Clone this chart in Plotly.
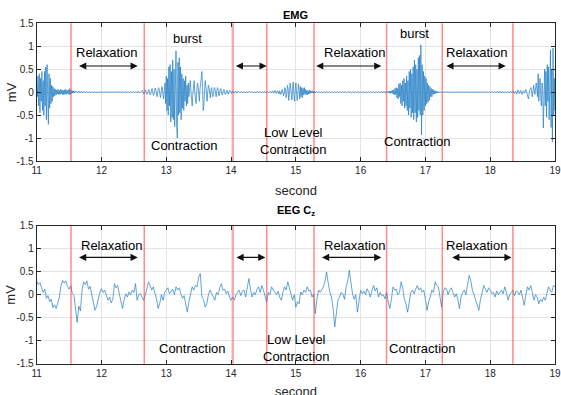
import numpy as np
import plotly.graph_objects as go

# ---------------- data ----------------
# EMG segments: (sample step in s, values in mV), consecutive in time from 11.0 s
emg_start = 11.0
emg_seg_a = [0.2, -0.1, 0.35, -0.3, 0.4, -0.45, 0.3, -0.2, 0.45, -0.4,
             0.25, -0.5, 0.45, -0.3, 0.55, -0.6, 0.6, -0.3, -0.7, 0.4,
             -0.35, 0.3, -0.25, 0.15, -0.2, 0.12, -0.1, 0.08, -0.08, 0.06,
             -0.06, 0.05, -0.04, 0.06, -0.05, 0.04, -0.05, 0.06, -0.04, 0.05,
             -0.05, 0.04, -0.06, 0.05, -0.04, 0.06, -0.05, 0.04, -0.03, 0.05,
             -0.06, 0.08, -0.05, 0.04, -0.03, 0.03, -0.02, 0.03, -0.02, 0.02]
emg_seg_b = [0.02, -0.02, 0.025, -0.02, 0.02, -0.015, 0.02, -0.015, 0.015, -0.01, 0.01, -0.01,
             0.008, -0.008, 0.005, -0.005, 0.004, -0.003, 0.003, -0.002, 0.002, 0, 0.002, -0.002,
             0, 0.002, -0.002, 0, 0.002, -0.002, 0.003, -0.003, 0.003, -0.002, 0.004, -0.004,
             0.005, -0.005, 0.006, -0.006, 0.008, -0.008, 0.01, -0.01, 0.012, -0.012, 0.015,
             -0.015, 0.018, -0.02, 0.02]
emg_seg_c = [0.02, 0.04, 0.0, -0.04, -0.02, 0.03, 0.05, 0.0, -0.05, -0.03, 0.04, 0.06, 0.0,
             -0.06, -0.04, 0.05, 0.08, 0.02, -0.07, -0.06, 0.04, 0.09, 0.03, -0.08, -0.1, 0.02,
             0.1, 0.06, -0.06, -0.12, -0.02, 0.12, 0.1, -0.08, -0.15, 0.05]
emg_seg_d = [0.2, -0.25, 0.35, -0.4, 0.3, -0.5, 0.55, -0.3, 0.6, -0.65, 0.45, -0.55, 0.7,
             -0.6, 0.5, -0.75, 0.8, 0.9, -0.7, -1.0, 0.65, -0.5, 0.75, -0.45, 0.55, -0.6, 0.4,
             -0.35, 0.3, -0.4, 0.25, -0.2, 0.35, -0.3, 0.15, -0.25, 0.2, -0.1]
emg_seg_e = [0.1, 0.25, 0.05, -0.2, -0.3, -0.05, 0.2, 0.25, 0.0, -0.2, -0.25, 0.0, 0.2, 0.15,
             -0.1, -0.2, 0.05, 0.25, 0.3, 0.45, 0.1, -0.4, -0.3, 0.05, 0.25, 0.15, -0.1, -0.2,
             0.0, 0.15, 0.1, -0.1, -0.12, 0.05, 0.1]
emg_seg_f = [-0.05, -0.1, 0.0, 0.1, 0.08, -0.06, -0.1, 0.02, 0.1, 0.05, -0.08, -0.07, 0.04,
             0.08, 0.02, -0.06, -0.05, 0.04, 0.06, 0.0, -0.05, -0.03, 0.04, 0.04, -0.02, -0.04,
             0.01, 0.04, 0.02, -0.03, -0.03, 0.02, 0.03, -0.01, -0.02, 0.01, 0.02, -0.01, -0.02, 0.01]
emg_seg_g = [0.015, -0.015, 0.02, -0.01, 0.015, -0.02, 0.01, -0.015, 0.02, -0.01, 0.015, -0.015,
             0.01, -0.02, 0.015, -0.01, 0.02, -0.015, 0.01, -0.01, 0.015, -0.02, 0.02, -0.01,
             0.015, -0.015, 0.03, -0.02, 0.04, -0.03, 0.03, -0.04]
emg_seg_h = [0.03, -0.02, -0.05, 0.02, 0.06, 0.0, -0.08, -0.02, 0.1, 0.05, -0.12, -0.05,
             0.15, 0.08, -0.18, -0.05, 0.2, 0.1, -0.15, -0.17, 0.12, 0.22, -0.05, -0.2,
             0.05, 0.2, 0.0, -0.18, -0.05, 0.18, 0.05, -0.15, 0.12, -0.1, 0.1, -0.12,
             0.08, -0.06, 0.1, -0.05, 0.06, -0.05, 0.04, -0.06, 0.03, -0.04, 0.05, -0.03,
             0.03, -0.02, 0.03, -0.02, 0.02, -0.03, 0.02, -0.01]
emg_seg_i = [0.01, -0.012, 0.015, -0.01, 0.012, -0.015, 0.01, -0.008, 0.012, -0.01, 0.015, -0.012,
             0.01, -0.015, 0.012, -0.01, 0.008, -0.012, 0.015, -0.01, 0.012, -0.008, 0.01, -0.012,
             0.015, -0.01, 0.012, -0.015, 0.01, -0.008, 0.012, -0.01, 0.015, -0.012, 0.01, -0.015,
             0.012, -0.01, 0.008, -0.012, 0.015, -0.01, 0.012, -0.008, 0.01, -0.012, 0.015, -0.01,
             0.012, -0.015, 0.02, -0.015, 0.02, -0.02, 0.025]
emg_seg_j = [0.01, -0.01, 0.02, -0.02, 0.02, -0.03, 0.03, -0.02, 0.04, -0.04,
             0.05, -0.06, 0.08, -0.05, 0.1, -0.12, 0.08, -0.15, 0.18, -0.1,
             0.2, -0.25, 0.15, -0.3, 0.25, -0.2, 0.3, -0.35, 0.2, -0.3,
             0.35, -0.4, 0.25, -0.5, 0.45, -0.35, 0.5, -0.55, 0.4, -0.45,
             0.55, -0.6, 0.7, -0.45, 0.6, -0.65, 0.5, -0.55, 0.75, -0.4,
             0.8, -0.5, 1.03, -0.93, 0.6, -0.5, 0.45, -0.4, 0.35, -0.3,
             0.3, -0.25, 0.2, -0.22, 0.15, -0.18, 0.12, -0.1, 0.08, -0.1,
             0.06, -0.05, 0.05, -0.04, 0.03, -0.03, 0.02, -0.02, 0.01, -0.01,
             0.01, -0.01, 0.005, -0.005, 0.0]
emg_seg_k = [0.005, -0.005, 0.004, -0.004, 0.003, -0.003, 0.004, -0.003, 0.002, -0.003, 0.003,
             -0.002, 0.002, -0.002, 0.003, -0.003, 0.002, -0.002, 0.003, -0.002, 0.002, -0.003,
             0.003, -0.002, 0.002, -0.002, 0.003, -0.003, 0.004, -0.004, 0.005, -0.005, 0.006,
             -0.006, 0.008, -0.008, 0.01, -0.012, 0.015, -0.01, 0.012, -0.015, 0.02, -0.015,
             0.025, -0.02, 0.015, -0.02, 0.01, -0.015]
emg_seg_l = [0.01, -0.02, 0.02, -0.01, 0.03, -0.03, 0.02, -0.04, 0.05, -0.03, 0.04, -0.05, 0.03,
             -0.02, 0.06, -0.08, -0.15, 0.05, 0.1, -0.1, 0.15, -0.05, 0.2]
emg_seg_m = [0.05, -0.1, 0.4, -0.2, 0.15, 0.3, -0.15, -0.3, 0.2, 0.05, -0.78, 0.19, 0.5, -0.3,
             0.45, -0.55, 0.6, -0.2, 0.55, -0.6, 0.4, 0.92, -0.77, 0.5, -1.08, 0.96, -0.5, 0.3,
             -0.4, 0.25]
emg_segments = [(0.01, emg_seg_a), (0.02, emg_seg_b), (0.01, emg_seg_c), (0.01, emg_seg_d),
                (0.01, emg_seg_e), (0.01, emg_seg_f), (0.02, emg_seg_g), (0.01, emg_seg_h),
                (0.02, emg_seg_i), (0.01, emg_seg_j), (0.02, emg_seg_k), (0.02, emg_seg_l),
                (0.01, emg_seg_m)]

# EEG Cz, sampled every 0.025 s from 11.0 s
eeg_start = 11.0
eeg_step = 0.025
eeg_values = [
    0.3, 0.22, 0.26, 0.15, 0.05, 0.12, -0.08, -0.02, -0.15, -0.1, -0.28, -0.22, -0.3, -0.18, -0.05, 0.2, 0.31, 0.25, 0.3, 0.18,
    0.12, 0.2, 0.02, -0.02, -0.3, -0.6, -0.25, -0.35, 0.1, 0.28, 0.22, 0.3, 0.12, 0.18, 0.0, -0.2, -0.34, -0.25, -0.08, 0.05,
    0.13, 0.05, 0.1, -0.02, -0.12, -0.05, -0.18, -0.1, 0.24, 0.15, 0.2, 0.02, -0.15, -0.3, -0.1, 0.02, -0.05, 0.06, 0.0, 0.1,
    0.05, 0.24, -0.12, 0.0, 0.02, -0.05, -0.12, -0.02, 0.15, 0.28, 0.2, 0.1, 0.17, 0.05, -0.1, -0.3, -0.18, 0.0, -0.12, 0.05,
    0.1, 0.15, 0.02, 0.06, 0.12, 0.0, 0.17, 0.1, 0.15, 0.02, -0.08, -0.02, -0.2, -0.38, -0.15, 0.05, 0.17, 0.1, 0.2, 0.17,
    0.38, 0.46, -0.05, -0.1, -0.27, -0.2, 0.0, 0.1, 0.02, -0.05, -0.12, 0.05, 0.0, 0.15, 0.24, 0.1, 0.12, 0.02, 0.08, -0.05,
    -0.12, -0.05, -0.12, 0.0, 0.06, 0.1, -0.02, 0.08, 0.1, -0.05, 0.15, 0.35, 0.12, -0.05, 0.05, 0.0, 0.12, 0.17, 0.05, 0.2,
    0.1, -0.05, -0.16, 0.05, 0.0, 0.17, 0.1, 0.05, 0.0, 0.08, -0.05, -0.12, 0.05, 0.17, 0.1, 0.28, 0.15, 0.02, -0.12, 0.0,
    -0.27, -0.15, -0.2, 0.06, 0.0, 0.1, 0.05, 0.17, 0.08, 0.1, -0.05, 0.02, -0.41, -0.1, 0.1, 0.05, 0.12, 0.17, 0.3, 0.49,
    0.25, 0.05, -0.05, -0.3, -0.7, -0.35, -0.12, -0.05, 0.05, 0.02, -0.1, 0.15, 0.3, 0.53, 0.2, 0.02, -0.1, 0.0, -0.38, -0.1,
    0.1, 0.02, 0.08, 0.0, 0.13, 0.05, -0.05, 0.1, 0.2, 0.08, 0.15, -0.05, 0.05, -0.02, 0.0, -0.09, 0.05, -0.15, -0.3, -0.1,
    0.17, 0.1, 0.12, 0.0, 0.05, 0.28, 0.15, -0.1, -0.2, -0.38, -0.15, 0.05, 0.1, 0.02, 0.12, 0.2, 0.1, 0.15, 0.05, 0.1,
    -0.1, -0.34, -0.15, -0.05, 0.1, 0.05, 0.28, 0.2, 0.17, -0.05, -0.27, 0.05, 0.15, 0.13, 0.0, 0.1, 0.15, 0.05, -0.05, 0.02,
    -0.1, -0.3, -0.05, 0.05, 0.1, 0.0, 0.2, 0.42, 0.3, 0.1, 0.0, -0.1, -0.2, -0.34, -0.1, 0.05, 0.2, 0.12, 0.05, 0.15,
    0.1, 0.02, 0.05, -0.05, 0.08, 0.0, 0.06, 0.1, 0.02, 0.17, 0.05, -0.12, 0.0, 0.05, 0.1, -0.02, 0.08, 0.06, 0.0, 0.1,
    -0.05, -0.23, 0.0, 0.17, 0.1, 0.2, 0.05, -0.12, 0.0, -0.05, -0.2, -0.1, -0.15, -0.05, -0.12, 0.05, 0.17, 0.1, 0.05, 0.2, 0.17,
]

# event markers (s)
event_lines = [11.53, 12.66, 14.03, 14.55, 15.28, 16.40, 17.26, 18.35]

# arrows (start, end, y)
emg_arrows = [(11.63, 12.56), (14.05, 14.55), (15.29, 16.32), (17.30, 18.24)]
emg_arrow_y = 0.57
eeg_arrows = [(11.63, 12.56), (14.06, 14.53), (15.38, 16.32), (17.39, 18.33)]
eeg_arrow_y = 0.81

# text labels (x, y, text)
emg_labels = [(12.08, 0.86, "Relaxation"), (15.91, 0.86, "Relaxation"), (17.79, 0.86, "Relaxation"),
              (13.32, 1.17, "burst"), (16.83, 1.28, "burst"),
              (13.27, -1.17, "Contraction"), (16.87, -1.07, "Contraction"),
              (14.95, -1.06, "Low Level<br>Contraction")]
eeg_labels = [(12.16, 1.08, "Relaxation"), (15.91, 1.08, "Relaxation"), (17.79, 1.08, "Relaxation"),
              (13.40, -1.16, "Contraction"), (16.95, -1.16, "Contraction"),
              (15.0, -1.16, "Low Level<br>Contraction")]

x_ticks = [11, 12, 13, 14, 15, 16, 17, 18, 19]
y_ticks = [-1.5, -1, -0.5, 0, 0.5, 1, 1.5]
y_ticktext = ["-1.5", "-1", "-0.5", "0", "0.5", "1", "1.5"]

# ---------------- build series ----------------
emg_t, emg_v = [], []
t = emg_start
first = True
for step, vals in emg_segments:
    for v in vals:
        if not first:
            t += step
        first = False
        emg_t.append(round(t, 4))
        emg_v.append(v)

eeg_t = [round(eeg_start + i * eeg_step, 4) for i in range(len(eeg_values))]

# ---------------- figure ----------------
W, H = 561, 395
FONT = "Liberation Sans, Arial, Helvetica, sans-serif"
LINE = "#1f7cc4"

fig = go.Figure()
fig.add_trace(go.Scatter(x=emg_t, y=emg_v, mode="lines", line=dict(color=LINE, width=0.7),
                         xaxis="x", yaxis="y", showlegend=False, hoverinfo="skip"))
fig.add_trace(go.Scatter(x=eeg_t, y=eeg_values, mode="lines", line=dict(color=LINE, width=0.7),
                         xaxis="x2", yaxis="y2", showlegend=False, hoverinfo="skip"))

xdom = [36.7 / W, 555 / W]
top_dom = [1 - 161 / H, 1 - 23.3 / H]
bot_dom = [1 - 363.7 / H, 1 - 225.7 / H]

axis_common = dict(showline=True, linecolor="#262626", linewidth=1, mirror="ticks",
                   ticks="inside", ticklen=4, tickcolor="#262626", automargin=False,
                   showgrid=True, gridcolor="#e3e3e3", gridwidth=1, zeroline=False,
                   tickfont=dict(family=FONT, size=10, color="#262626"))

fig.update_layout(
    width=W, height=H, margin=dict(l=0, r=0, t=0, b=0),
    paper_bgcolor="white", plot_bgcolor="white",
    xaxis=dict(domain=xdom, range=[11, 19], tickvals=x_ticks, anchor="y", **axis_common),
    yaxis=dict(domain=top_dom, range=[-1.5, 1.5], tickvals=y_ticks, ticktext=y_ticktext,
               anchor="x", **axis_common),
    xaxis2=dict(domain=xdom, range=[11, 19], tickvals=x_ticks, anchor="y2", **axis_common),
    yaxis2=dict(domain=bot_dom, range=[-1.5, 1.5], tickvals=y_ticks, ticktext=y_ticktext,
                anchor="x2", **axis_common),
)

shapes = []
for xr, yr in (("x", "y"), ("x2", "y2")):
    for ev in event_lines:
        shapes.append(dict(type="line", xref=xr, yref=yr + " domain", x0=ev, x1=ev, y0=0, y1=1,
                           line=dict(color="rgba(255,60,60,0.6)", width=1.5), layer="above"))
fig.update_layout(shapes=shapes)

ann = []
txtfont = dict(family=FONT, size=13, color="black")
for xr, yr, arrows, ay, labels in (("x", "y", emg_arrows, emg_arrow_y, emg_labels),
                                   ("x2", "y2", eeg_arrows, eeg_arrow_y, eeg_labels)):
    for a0, a1 in arrows:
        ann.append(dict(x=a1, y=ay, ax=a0, ay=ay, xref=xr, yref=yr, axref=xr, ayref=yr,
                        text="", showarrow=True, arrowside="end+start", arrowhead=2,
                        arrowsize=1.2, arrowwidth=1.2, arrowcolor="#111111"))
    for lx, ly, lt in labels:
        ann.append(dict(x=lx, y=ly, xref=xr, yref=yr, text=lt, showarrow=False,
                        font=txtfont, xanchor="center", yanchor="middle"))

# titles and axis labels
ann.append(dict(x=(xdom[0] + xdom[1]) / 2, y=1 - 15 / H, xref="paper", yref="paper",
                text="<b>EMG</b>", showarrow=False, font=dict(family=FONT, size=11, color="black"),
                yanchor="middle"))
ann.append(dict(x=(xdom[0] + xdom[1]) / 2, y=1 - 211 / H, xref="paper", yref="paper",
                text="<b>EEG C<sub>z</sub></b>", showarrow=False,
                font=dict(family=FONT, size=11, color="black"), yanchor="middle"))
for yc in (190, 391):
    ann.append(dict(x=(xdom[0] + xdom[1]) / 2, y=1 - yc / H, xref="paper", yref="paper",
                    text="second", showarrow=False, font=dict(family=FONT, size=13, color="#262626"),
                    yanchor="middle"))
for yc in ((23.3 + 161) / 2, (225.7 + 363.7) / 2):
    ann.append(dict(x=11 / W, y=1 - yc / H, xref="paper", yref="paper", text="mV",
                    showarrow=False, textangle=-90, font=dict(family=FONT, size=13, color="#262626"),
                    xanchor="center", yanchor="middle"))
fig.update_layout(annotations=ann)

fig.write_html("out.html")
